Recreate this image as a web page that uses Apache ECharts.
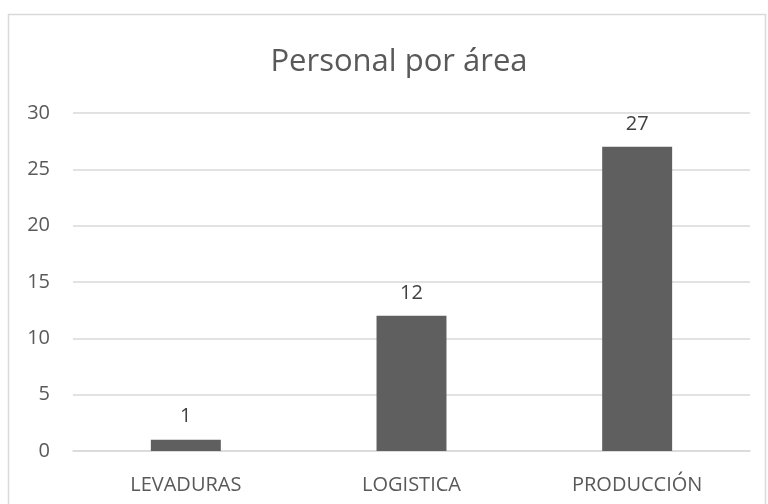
<!DOCTYPE html>
<html>
<head>
<meta charset="utf-8">
<script src="https://cdn.jsdelivr.net/npm/echarts@6/dist/echarts.min.js"></script>
<style>
  html, body { margin: 0; padding: 0; background: #fff; }
  #chart { width: 768px; height: 504px; }
</style>
</head>
<body>
<div id="chart"></div>
<script>
// Staff headcount per area
const categories = ['LEVADURAS', 'LOGISTICA', 'PRODUCCIÓN'];
const personal = [1, 12, 27];
const yTicks = { min: 0, max: 30, interval: 5 };

const font = '"Open Sans", "Noto Sans", sans-serif';
const chart = echarts.init(document.getElementById('chart'));
chart.setOption({
  animation: false,
  backgroundColor: '#fff',
  graphic: [{
    type: 'rect',
    shape: { x: 8.5, y: 14.5, width: 757, height: 510 },
    style: { fill: 'none', stroke: '#d9d9d9', lineWidth: 1.5 },
    silent: true
  }],
  title: {
    text: 'Personal por área',
    left: 394,
    textAlign: 'center',
    top: 42,
    textStyle: { fontFamily: font, fontSize: 31, fontWeight: 'normal', color: '#595959' }
  },
  grid: { left: 73, right: 18, top: 113, bottom: 53 },
  xAxis: {
    type: 'category',
    data: categories,
    axisLine: { show: true, lineStyle: { color: '#d9d9d9', width: 1.5 } },
    axisTick: { show: false },
    axisLabel: { fontFamily: font, fontSize: 20, color: '#595959', margin: 24 }
  },
  yAxis: {
    type: 'value',
    min: yTicks.min,
    max: yTicks.max,
    interval: yTicks.interval,
    axisLine: { show: false },
    axisTick: { show: false },
    splitLine: { lineStyle: { color: '#d9d9d9', width: 1.5 } },
    axisLabel: { fontFamily: font, fontSize: 20, color: '#595959', margin: 23 }
  },
  series: [{
    type: 'bar',
    data: personal,
    barWidth: '31%',
    itemStyle: { color: '#5f5f5f' },
    label: {
      show: true,
      position: 'top',
      distance: 13,
      fontFamily: font,
      fontSize: 20,
      color: '#404040'
    }
  }]
});
</script>
</body>
</html>
